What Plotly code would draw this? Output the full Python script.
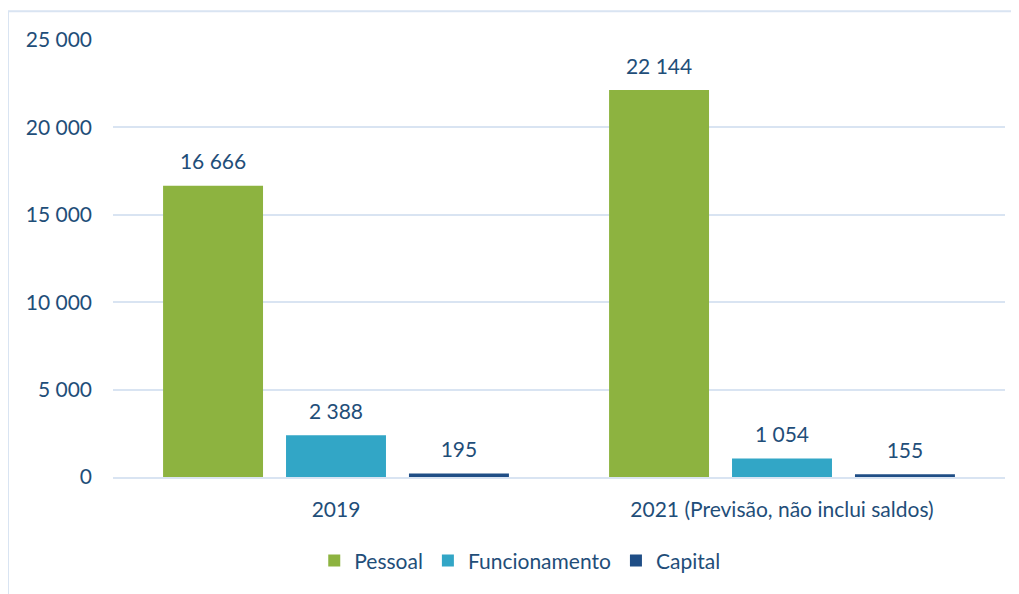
import plotly.graph_objects as go

categorias = ['2019', '2021 (Previsão, não inclui saldos)']
series = ['Pessoal', 'Funcionamento', 'Capital']
pessoal = [16666, 22144]
funcionamento = [2388, 1054]
capital = [195, 155]
valores = [pessoal, funcionamento, capital]
cores = ['#8DB340', '#32A6C6', '#1F4E86']
y_ticks = [0, 5000, 10000, 15000, 20000, 25000]

texto = '#1F4E79'
grade = '#D9E4F2'
fonte = 'Lato'
tam = 21

fig = go.Figure()
for nome, vals, cor in zip(series, valores, cores):
    fig.add_trace(go.Bar(x=categorias, y=vals, name=nome, marker=dict(color=cor, line=dict(width=0))))
# rótulos de dados (traço de texto agrupado como as barras)
for nome, vals in zip(series, valores):
    fig.add_trace(go.Scatter(x=categorias, y=vals, mode='markers+text', showlegend=False,
                             text=[f'{v:,}'.replace(',', ' ') for v in vals],
                             textposition='top center', hoverinfo='skip',
                             marker=dict(size=16, opacity=0),
                             textfont=dict(color=texto, size=tam, family=fonte)))

# a página tem margem de 8px no body, por isso a figura é 8px menor
fig.update_layout(
    width=1011, height=586,
    margin=dict(l=105, r=14, t=32, b=117, autoexpand=False),
    paper_bgcolor='white', plot_bgcolor='white',
    barmode='group', bargap=0.173, bargroupgap=0.187,
    scattermode='group', scattergap=0.173,
    separators=', ',
    font=dict(family=fonte, color=texto, size=tam),
    legend=dict(orientation='h', x=0.456, xanchor='center', y=-0.192, yanchor='middle',
                font=dict(size=tam, color=texto), itemwidth=30, traceorder='normal'),
    showlegend=True,
)
fig.update_yaxes(range=[0, 25000], tickvals=y_ticks, tickformat=',d', showgrid=True,
                 gridcolor=grade, gridwidth=2, zeroline=False, showline=False, automargin=False,
                 ticklabelstandoff=20, tickfont=dict(size=tam, color=texto))
fig.update_xaxes(showline=True, linecolor=grade, linewidth=2, ticks='', automargin=False,
                 ticklabelstandoff=13, tickfont=dict(size=tam, color=texto))
# moldura externa do gráfico
fig.add_shape(type='rect', xref='paper', yref='paper', x0=-0.1177, x1=1.05, y0=-0.3, y1=1.066,
              line=dict(color=grade, width=2), layer='below')
fig.write_html('out.html')
